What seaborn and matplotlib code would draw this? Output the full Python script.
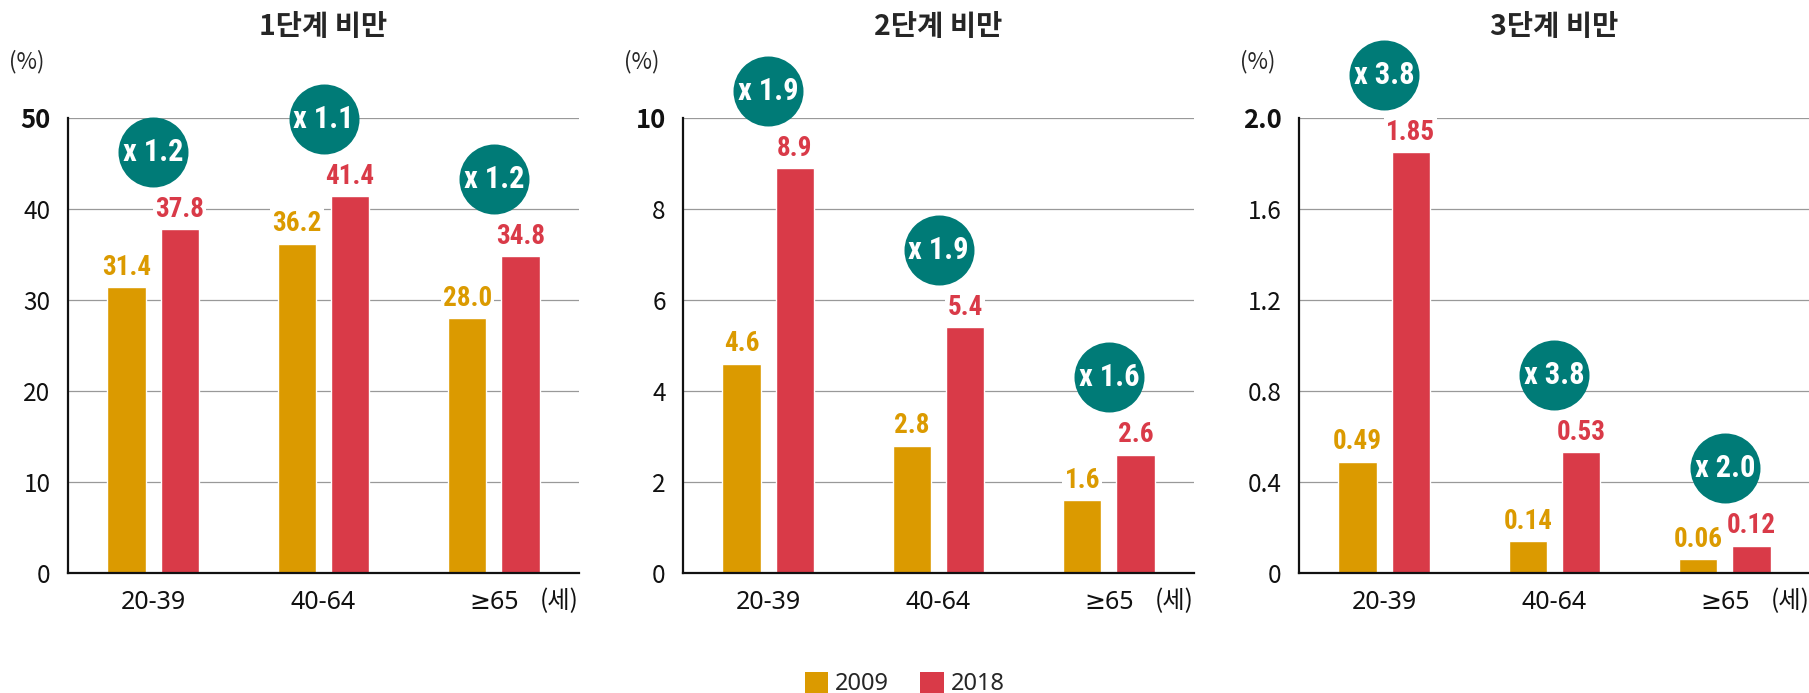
import numpy as np
import pandas as pd
import matplotlib
matplotlib.use('Agg')
import matplotlib.pyplot as plt
import seaborn as sns
from matplotlib import font_manager
from matplotlib.patches import Patch

# data
ages = ['20-39', '40-64', '≥65']
years = ['2009', '2018']
titles = ['1단계 비만', '2단계 비만', '3단계 비만']
grade1_2009 = [31.4, 36.2, 28.0]
grade1_2018 = [37.8, 41.4, 34.8]
grade2_2009 = [4.6, 2.8, 1.6]
grade2_2018 = [8.9, 5.4, 2.6]
grade3_2009 = [0.49, 0.14, 0.06]
grade3_2018 = [1.85, 0.53, 0.12]
ratio_labels = [['x 1.2', 'x 1.1', 'x 1.2'],
                ['x 1.9', 'x 1.9', 'x 1.6'],
                ['x 3.8', 'x 3.8', 'x 2.0']]
y_ticks = [[0, 10, 20, 30, 40, 50],
           [0, 2, 4, 6, 8, 10],
           [0, 0.4, 0.8, 1.2, 1.6, 2.0]]
y_ticklabels = [['0', '10', '20', '30', '40', '50'],
                ['0', '2', '4', '6', '8', '10'],
                ['0', '0.4', '0.8', '1.2', '1.6', '2.0']]
value_fmt = ['{:.1f}', '{:.1f}', '{:.2f}']

series = [(grade1_2009, grade1_2018), (grade2_2009, grade2_2018), (grade3_2009, grade3_2018)]

GOLD = '#DB9A00'
RED = '#D93A48'
TEAL = '#007B77'
palette = {'2009': GOLD, '2018': RED}

sns.set_style('white')
plt.rcParams['font.family'] = ['Noto Sans CJK KR', 'DejaVu Sans']


def pick_font(names):
    for n in names:
        try:
            font_manager.findfont(font_manager.FontProperties(family=n, weight='bold'),
                                  fallback_to_default=False)
            return n
        except Exception:
            pass
    return 'DejaVu Sans'


narrow = pick_font(['Liberation Sans Narrow', 'DejaVu Sans Condensed', 'Roboto Condensed', 'Liberation Sans'])
latin = ['Noto Sans', 'DejaVu Sans']

fig = plt.figure(figsize=(18.09, 6.93), dpi=100)
lefts = [68 / 1809, 683 / 1809, 1299 / 1809]
for i in range(3):
    ax = fig.add_axes([lefts[i], 120 / 693, 511 / 1809, 455 / 693])
    v09, v18 = series[i]
    df = pd.DataFrame({
        'age': ages * 2,
        'year': ['2009'] * 3 + ['2018'] * 3,
        'value': list(v09) + list(v18),
    })
    sns.barplot(data=df, x='age', y='value', hue='year', order=ages, hue_order=years,
                palette=palette, width=0.624, gap=0.28, saturation=1, legend=False, ax=ax,
                zorder=2)
    top = y_ticks[i][-1]
    ax.set_ylim(0, top)
    ax.set_xlim(-0.5, 2.5)
    ax.set_yticks(y_ticks[i])
    ax.set_yticklabels(y_ticklabels[i], fontsize=17.5)
    ax.get_yticklabels()[-1].set_fontweight('bold')
    ax.get_yticklabels()[-1].set_fontsize(18.5)
    ax.tick_params(axis='y', length=0, pad=12.5, colors='#111111')
    ax.tick_params(axis='x', length=0, pad=12, labelsize=18, colors='#111111')
    for lab in ax.get_xticklabels():
        lab.set_family(latin)
    ax.set_xlabel('')
    ax.set_ylabel('')
    ax.yaxis.grid(True, color='#999999', linewidth=0.9)
    ax.set_axisbelow(True)
    for s in ['top', 'right']:
        ax.spines[s].set_visible(False)
    for s in ['left', 'bottom']:
        ax.spines[s].set_color('#111111')
        ax.spines[s].set_linewidth(1.6)
        ax.spines[s].set_zorder(3)

    # value labels
    for cont, col in zip(ax.containers, [GOLD, RED]):
        vals = [p.get_height() for p in cont]
        ax.bar_label(cont, labels=[value_fmt[i].format(v) for v in vals], padding=4.5,
                     color=col, fontsize=19.5, fontweight='bold', family=narrow,
                     bbox=dict(facecolor='white', edgecolor='none', pad=1.5))

    # ratio badges above each group
    badge_y = [max(a, b) + 0.17 * top for a, b in zip(v09, v18)]
    ax.scatter(range(3), badge_y, s=2540, color=TEAL, linewidths=0, zorder=5, clip_on=False)
    for x, y, t in zip(range(3), badge_y, ratio_labels[i]):
        ax.text(x, y, t, color='white', fontsize=22, fontweight='bold', family=narrow,
                ha='center', va='center', zorder=6)

    ax.text(0.5, 1.2, titles[i], transform=ax.transAxes, ha='center', va='center',
            fontsize=20.5, fontweight='bold')
    ax.text(-0.08, 1.123, '(%)', transform=ax.transAxes, ha='center', va='center', fontsize=16)
    ax.annotate('(세)', xy=(1, 0), xycoords='axes fraction', xytext=(0, -11),
                textcoords='offset points', ha='right', va='top', fontsize=17.5, color='#111111')

handles = [Patch(facecolor=palette[y], edgecolor='none') for y in years]
fig.legend(handles, years, loc='upper center', bbox_to_anchor=(0.5, 1 - 660 / 693), ncol=2,
           frameon=False, handlelength=1, handleheight=1, borderpad=0, handletextpad=0.3,
           columnspacing=1.3, prop={'family': latin, 'size': 17})

fig.savefig('out.png', dpi=100)
